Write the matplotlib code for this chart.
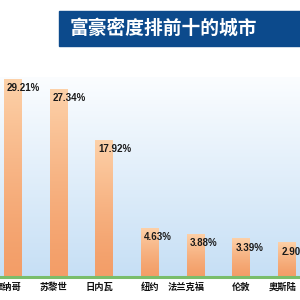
import numpy as np
import matplotlib
matplotlib.use("Agg")
from matplotlib import pyplot as plt
from matplotlib.patches import Rectangle

plt.rcParams['font.family'] = ['Noto Sans CJK SC', 'DejaVu Sans']

title = "富豪密度排前十的城市"
cities = ['摩纳哥', '苏黎世', '日内瓦', '纽约', '法兰克福', '伦敦', '奥斯陆']
values = [29.21, 27.34, 17.92, 4.63, 3.88, 3.39, 2.90]
labels = ['29.21%', '27.34%', '17.92%', '4.63%', '3.88%', '3.39%', '2.90%']

P = 0.75  # bars in the source are not linear, a power scale gets close


def fwd(v):
    return np.power(np.clip(v, 0, None), P)


def inv(v):
    return np.power(np.clip(v, 0, None), 1.0 / P)


fig = plt.figure(figsize=(3, 3), dpi=100)
ax = fig.add_axes([0, 1 - 277 / 300, 1, 200 / 300])
ax.set_yscale('function', functions=(fwd, inv))
ax.set_xlim(-0.284, 6.28)
ax.set_ylim(0, 29.5)

# background gradient white -> light blue
grad = np.linspace(0, 1, 256).reshape(-1, 1)
top_c = np.array([0xfb, 0xfd, 0xff]) / 255
bot_c = np.array([0xc6, 0xdf, 0xf5]) / 255
bg = top_c[None, None, :] * (1 - grad[:, :, None]) + bot_c[None, None, :] * grad[:, :, None]
ax.imshow(bg, extent=(0, 1, 0, 1), transform=ax.transAxes, aspect='auto', zorder=0)

X = np.arange(len(cities))
w = 0.394
bars = ax.bar(X, values, width=w, color='none', zorder=2)

bar_top = np.array([0xfd, 0xd2, 0xaa]) / 255
bar_bot = np.array([0xf3, 0x9e, 0x68]) / 255
bimg = bar_top[None, None, :] * (1 - grad[:, :, None]) + bar_bot[None, None, :] * grad[:, :, None]
for b in bars:
    im = ax.imshow(bimg, extent=(b.get_x(), b.get_x() + w, 0, b.get_height()),
                   aspect='auto', zorder=2)
    im.set_clip_path(b)

for i, v in enumerate(values):
    ax.annotate(labels[i], (X[i] - w / 2, v), xytext=(3, -10), textcoords='offset pixels',
                ha='left', va='center', fontsize=7, fontweight='bold', color='#1a1a1a',
                family=['Liberation Sans', 'DejaVu Sans'], zorder=3)
    ax.annotate(cities[i], (X[i] + w / 2, 0), xytext=(0, -10), textcoords='offset pixels',
                ha='right', va='center', fontsize=6.7, fontweight='bold', color='#111111',
                annotation_clip=False, zorder=3)

for s in ['top', 'left', 'right']:
    ax.spines[s].set_visible(False)
ax.spines['bottom'].set_color('#7abd6a')
ax.spines['bottom'].set_linewidth(2.2)
ax.set_xticks([])
ax.set_yticks([])
ax.yaxis.set_minor_locator(matplotlib.ticker.NullLocator())

# title box
fig.add_artist(Rectangle((59 / 300, 1 - 46 / 300), 241 / 300, 35 / 300,
                         transform=fig.transFigure, color='#0c4a8c', zorder=1))
fig.text(70 / 300, 1 - 28.5 / 300, title, color='white', fontsize=13.5,
         fontweight='bold', ha='left', va='center')

fig.savefig("out.png", dpi=100)
